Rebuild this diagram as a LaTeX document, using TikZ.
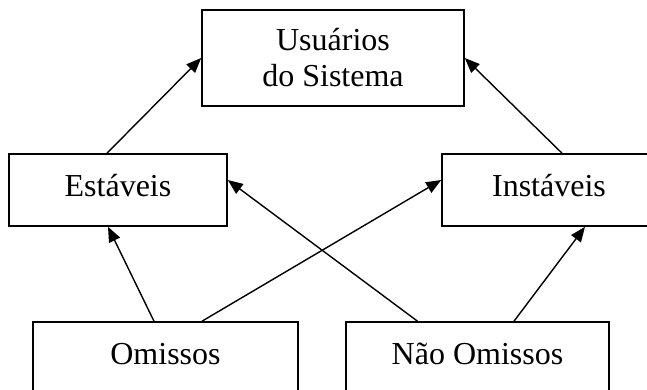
\documentclass[tikz,border=0pt]{standalone}
\usepackage{fontspec}
\setmainfont{Liberation Serif}
\usetikzlibrary{arrows.meta}

\begin{document}
\begin{tikzpicture}[x=1pt,y=-1pt,
  caixa/.style={draw,line width=1.6pt,inner sep=0pt,font=\fontsize{32}{36}\selectfont},
  umalinha/.style={caixa,text height=22pt,text depth=10pt,minimum height=72pt},
  seta/.style={line width=1.4pt,-{Triangle[length=15pt,width=12pt]}}]

\useasboundingbox (0,0) rectangle (647,389);
\clip (0,0) rectangle (647,389);

% Usuarios no topo
\node[caixa,minimum width=262pt,minimum height=96pt,align=center] (usr) at (333,58) {Usuários\\do Sistema};

% Estaveis e Instaveis
\node[umalinha,minimum width=218pt] (est) at (118,190) {Estáveis};
\node[umalinha,minimum width=214pt] (inst) at (549,190) {Instáveis};

% Omissos e Nao Omissos (cortados embaixo)
\node[umalinha,minimum width=265pt] (omi) at (165.5,358) {Omissos};
\node[umalinha,minimum width=263pt] (nomi) at (477.5,358) {Não Omissos};

% Setas para cima
\draw[seta] ([xshift=-11pt]est.north) -- (usr.west);
\draw[seta] ([xshift=13pt]inst.north) -- (usr.east);
\draw[seta] ([xshift=-11.5pt]omi.north) -- ([xshift=-10pt]est.south);
\draw[seta] ([xshift=36.5pt]omi.north) -- ([yshift=10pt]inst.west);
\draw[seta] ([xshift=-60pt]nomi.north) -- ([yshift=10pt]est.east);
\draw[seta] ([xshift=36.5pt]nomi.north) -- ([xshift=36pt]inst.south);

\end{tikzpicture}
\end{document}
